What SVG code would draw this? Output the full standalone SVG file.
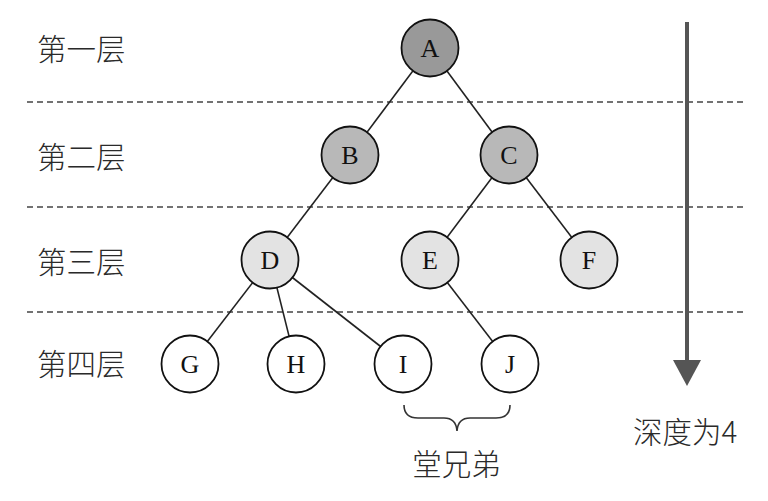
<svg xmlns="http://www.w3.org/2000/svg" width="768" height="501" viewBox="0 0 768 501">
<style>
.lvl{font-family:"Noto Sans CJK SC","Noto Sans CJK JP",sans-serif;font-size:29.5px;font-weight:300;fill:#2a2a2a;}
.dash{stroke:#444;stroke-width:1.6;stroke-dasharray:6,4;fill:none;}
.edge{stroke:#222;stroke-width:1.6;fill:none;}
.node circle{stroke:#111;stroke-width:1.8;}
.node text{font-family:"Liberation Serif",serif;font-size:26px;fill:#111;text-anchor:middle;}
.l1{fill:#999999;}.l2{fill:#b8b8b8;}.l3{fill:#e3e3e3;}.l4{fill:#ffffff;}
</style>
<rect width="768" height="501" fill="#fff"/>
<g id="levels">
<line class="dash" x1="27" y1="102" x2="745" y2="102"/>
<line class="dash" x1="27" y1="207" x2="745" y2="207"/>
<line class="dash" x1="27" y1="312" x2="745" y2="312"/>
<text class="lvl" x="37" y="59.5">第一层</text>
<text class="lvl" x="37" y="167.5">第二层</text>
<text class="lvl" x="37" y="272.5">第三层</text>
<text class="lvl" x="37" y="374.5">第四层</text>
</g>
<g id="connectors">
<line class="edge" x1="430" y1="48" x2="350" y2="155"/>
<line class="edge" x1="430" y1="48" x2="509" y2="155"/>
<line class="edge" x1="350" y1="155" x2="270" y2="260"/>
<line class="edge" x1="509" y1="155" x2="430" y2="260"/>
<line class="edge" x1="509" y1="155" x2="589" y2="260"/>
<line class="edge" x1="270" y1="260" x2="190" y2="364"/>
<line class="edge" x1="270" y1="260" x2="296" y2="364"/>
<line class="edge" x1="270" y1="260" x2="403" y2="364"/>
<line class="edge" x1="430" y1="260" x2="510" y2="364"/>
</g>
<g id="A" class="node"><circle class="l1" cx="430" cy="48" r="28.5"/><text x="430" y="57">A</text></g>
<g id="B" class="node"><circle class="l2" cx="350" cy="155" r="28.5"/><text x="350" y="164">B</text></g>
<g id="C" class="node"><circle class="l2" cx="509" cy="155" r="28.5"/><text x="509" y="164">C</text></g>
<g id="D" class="node"><circle class="l3" cx="270" cy="260" r="28.5"/><text x="270" y="269">D</text></g>
<g id="E" class="node"><circle class="l3" cx="430" cy="260" r="28.5"/><text x="430" y="269">E</text></g>
<g id="F" class="node"><circle class="l3" cx="589" cy="260" r="28.5"/><text x="589" y="269">F</text></g>
<g id="G" class="node"><circle class="l4" cx="190" cy="364" r="28.5"/><text x="190" y="373">G</text></g>
<g id="H" class="node"><circle class="l4" cx="296" cy="364" r="28.5"/><text x="296" y="373">H</text></g>
<g id="I" class="node"><circle class="l4" cx="403" cy="364" r="28.5"/><text x="403" y="373">I</text></g>
<g id="J" class="node"><circle class="l4" cx="510" cy="364" r="28.5"/><text x="510" y="373">J</text></g>
<g id="cousins">
<path d="M404,405 Q404,418 418,418 L444,418 Q456,418 457,431 Q458,418 470,418 L496,418 Q510,418 510,405" fill="none" stroke="#333" stroke-width="1.6"/>
<text class="lvl" x="456.5" y="474.5" text-anchor="middle">堂兄弟</text>
</g>
<g id="depth">
<line x1="687" y1="22" x2="687" y2="362" stroke="#555" stroke-width="4"/>
<polygon points="673,360 701,360 687,386" fill="#555"/>
<text class="lvl" x="633" y="442.5">深度为4</text>
</g>
</svg>
